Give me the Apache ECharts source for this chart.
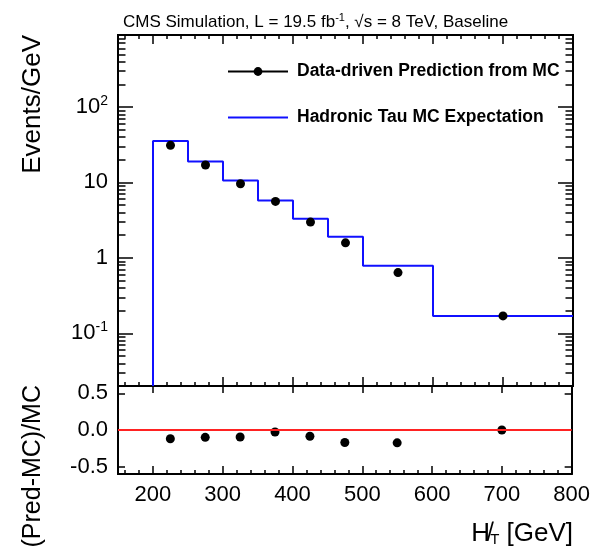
<!DOCTYPE html>
<html><head><meta charset="utf-8">
<script src="https://cdn.jsdelivr.net/npm/echarts@6/dist/echarts.min.js"></script>
<style>html,body{margin:0;padding:0;background:#fff}#c{width:593px;height:548px}</style>
</head><body><div id="c"></div>
<script>
// ---- data ----
const binEdges = [200, 250, 300, 350, 400, 450, 500, 600, 800];
const mcValues = [35.5, 19.0, 10.6, 5.77, 3.30, 1.90, 0.783, 0.170];
const binCenters = [225, 275, 325, 375, 425, 475, 550, 700];
const predValues = [31.0, 17.0, 9.6, 5.6, 2.98, 1.58, 0.638, 0.170];
const ratioValues = [-0.12, -0.10, -0.096, -0.027, -0.085, -0.17, -0.175, 0.0];
const xTickLabels = [200, 300, 400, 500, 600, 700, 800];
const yTickLabels = [0.1, 1, 10, 100];
const ratioTickLabels = [-0.5, 0, 0.5];
const X_MIN = 150, X_MAX = 800, Y_MIN = 0.02, Y_MAX = 900, R_MIN = -0.6, R_MAX = 0.6;

// minor ticks
const xMinorTicks = [];
for (let v = 160; v <= 800; v += 20) if (v % 100 !== 0) xMinorTicks.push(v);
const yMinorTicks = [];
[0.01, 0.1, 1, 10, 100].forEach(d => { for (let k = 2; k <= 9; k++) { const v = +(k * d).toPrecision(3); if (v >= Y_MIN && v <= Y_MAX) yMinorTicks.push(v); } });

// step data for MC histogram
const mcStep = [[binEdges[0], Y_MIN]];
mcValues.forEach((v, i) => mcStep.push([binEdges[i], v]));
mcStep.push([binEdges[binEdges.length - 1], mcValues[mcValues.length - 1]]);

const FONT = 'Liberation Sans, Arial, Helvetica, sans-serif';
const frame = { show: true, onZero: false, lineStyle: { color: '#000', width: 2 } };

function xAx(grid, pos, ticks, len, labels) {
  return {
    type: 'value', gridIndex: grid, position: pos, min: X_MIN, max: X_MAX,
    axisLine: frame,
    splitLine: { show: false },
    axisTick: { show: true, inside: true, length: len, customValues: ticks, lineStyle: { color: '#000', width: 1.5 } },
    axisLabel: labels ? { show: true, customValues: xTickLabels, margin: 10, fontSize: 22, color: '#000', fontFamily: FONT } : { show: false }
  };
}
function yLog(pos, ticks, len, labels) {
  return {
    type: 'log', logBase: 10, gridIndex: 0, position: pos, min: Y_MIN, max: Y_MAX,
    axisLine: frame,
    splitLine: { show: false }, minorTick: { show: false },
    axisTick: { show: true, inside: true, length: len, customValues: ticks, lineStyle: { color: '#000', width: 1.5 } },
    axisLabel: labels ? {
      show: true, customValues: yTickLabels, margin: 10, color: '#000', fontFamily: FONT,
      formatter: v => {
        if (Math.abs(v - 100) < 1e-6) return '{b|10}{s|2}';
        if (Math.abs(v - 10) < 1e-6) return '{b|10}';
        if (Math.abs(v - 1) < 1e-6) return '{b|1}';
        if (Math.abs(v - 0.1) < 1e-6) return '{b|10}{s|-1}';
        return '';
      },
      rich: {
        b: { fontSize: 22, lineHeight: 26, fontFamily: FONT, color: '#000' },
        s: { fontSize: 14, lineHeight: 14, verticalAlign: 'top', fontFamily: FONT, color: '#000' }
      }
    } : { show: false }
  };
}
function yRatio(pos, labels) {
  return {
    type: 'value', gridIndex: 1, position: pos, min: R_MIN, max: R_MAX,
    axisLine: frame, splitLine: { show: false },
    axisTick: { show: true, inside: true, length: 7, customValues: ratioTickLabels, lineStyle: { color: '#000', width: 1.5 } },
    axisLabel: labels ? { show: true, customValues: ratioTickLabels, margin: 10, fontSize: 22, color: '#000', fontFamily: FONT, formatter: v => v.toFixed(1) } : { show: false }
  };
}

const option = {
  animation: false,
  backgroundColor: '#fff',
  title: {
    left: 118, top: 7,
    text: '{a|CMS Simulation, L = 19.5 fb}{s|-1}{a|, √s = 8 TeV, Baseline}',
    textStyle: {
      fontWeight: 'normal',
      rich: {
        a: { fontSize: 17, fontFamily: FONT, fontWeight: 'normal', color: '#000', lineHeight: 20 },
        s: { fontSize: 11, fontFamily: FONT, fontWeight: 'normal', color: '#000', verticalAlign: 'top', lineHeight: 11 }
      }
    }
  },
  grid: [
    { left: 118, right: 20, top: 35, height: 351, containLabel: false },
    { left: 118, right: 20, top: 386, height: 88, containLabel: false }
  ],
  xAxis: [
    xAx(0, 'bottom', xTickLabels, 9, false),
    xAx(0, 'bottom', xMinorTicks, 4, false),
    xAx(0, 'top', xTickLabels, 9, false),
    xAx(0, 'top', xMinorTicks, 4, false),
    xAx(1, 'bottom', xTickLabels, 8, true),
    xAx(1, 'bottom', xMinorTicks, 4, false),
    xAx(1, 'top', xTickLabels, 7, false)
  ],
  yAxis: [
    yLog('left', yTickLabels, 15, true),
    yLog('left', yMinorTicks, 7.5, false),
    yLog('right', yTickLabels, 15, false),
    yLog('right', yMinorTicks, 7.5, false),
    yRatio('left', true),
    yRatio('right', false)
  ],
  legend: {
    orient: 'vertical', left: 222, top: 57.5, itemWidth: 60, itemHeight: 11, itemGap: 28,
    textStyle: { fontSize: 17.5, fontWeight: 'bold', fontFamily: FONT, color: '#000', padding: [0, 0, 0, 4] },
    data: [
      { name: 'Data-driven Prediction from MC', lineStyle: { color: '#000', width: 2, opacity: 1 } },
      { name: 'Hadronic Tau MC Expectation', itemStyle: { opacity: 0 } }
    ]
  },
  graphic: [
    { type: 'text', x: 33, y: 35, rotation: Math.PI / 2, style: { text: 'Events/GeV', font: '26px ' + FONT, fill: '#000', align: 'right', verticalAlign: 'middle' } },
    { type: 'text', x: 33, y: 385, rotation: Math.PI / 2, style: { text: '(Pred-MC)/MC', font: '25px ' + FONT, fill: '#000', align: 'right', verticalAlign: 'middle' } },
    { type: 'text', x: 573, y: 534, style: {
        text: '{h|H\u0338}{t|T}{g| [GeV]}', align: 'right', verticalAlign: 'middle',
        rich: {
          h: { fontSize: 26, fontFamily: FONT, fill: '#000' },
          t: { fontSize: 15, fontFamily: FONT, fill: '#000', verticalAlign: 'bottom', lineHeight: 15 },
          g: { fontSize: 26, fontFamily: FONT, fill: '#000' }
        } } }
  ],
  series: [
    {
      name: 'Hadronic Tau MC Expectation', type: 'line', xAxisIndex: 0, yAxisIndex: 0,
      step: 'end', symbol: 'none', data: mcStep, clip: true,
      lineStyle: { color: '#1010ff', width: 2 }, itemStyle: { color: '#1010ff' }, z: 2
    },
    {
      name: 'Data-driven Prediction from MC', type: 'line', xAxisIndex: 0, yAxisIndex: 0,
      symbol: 'circle', symbolSize: 9, showAllSymbol: true,
      data: binCenters.map((x, i) => [x, predValues[i]]),
      lineStyle: { width: 0, opacity: 0 }, itemStyle: { color: '#000', opacity: 1 }, z: 3
    },
    {
      name: 'ratio', type: 'scatter', xAxisIndex: 4, yAxisIndex: 4,
      symbol: 'circle', symbolSize: 9,
      data: binCenters.map((x, i) => [x, ratioValues[i]]),
      itemStyle: { color: '#000', opacity: 1 }, z: 3,
      markLine: {
        silent: true, symbol: 'none', label: { show: false },
        lineStyle: { color: '#ff2222', width: 2, type: 'solid' },
        data: [{ yAxis: 0 }]
      }
    }
  ]
};
const chart = echarts.init(document.getElementById('c'), null, { renderer: 'canvas' });
chart.setOption(option);
</script></body></html>
